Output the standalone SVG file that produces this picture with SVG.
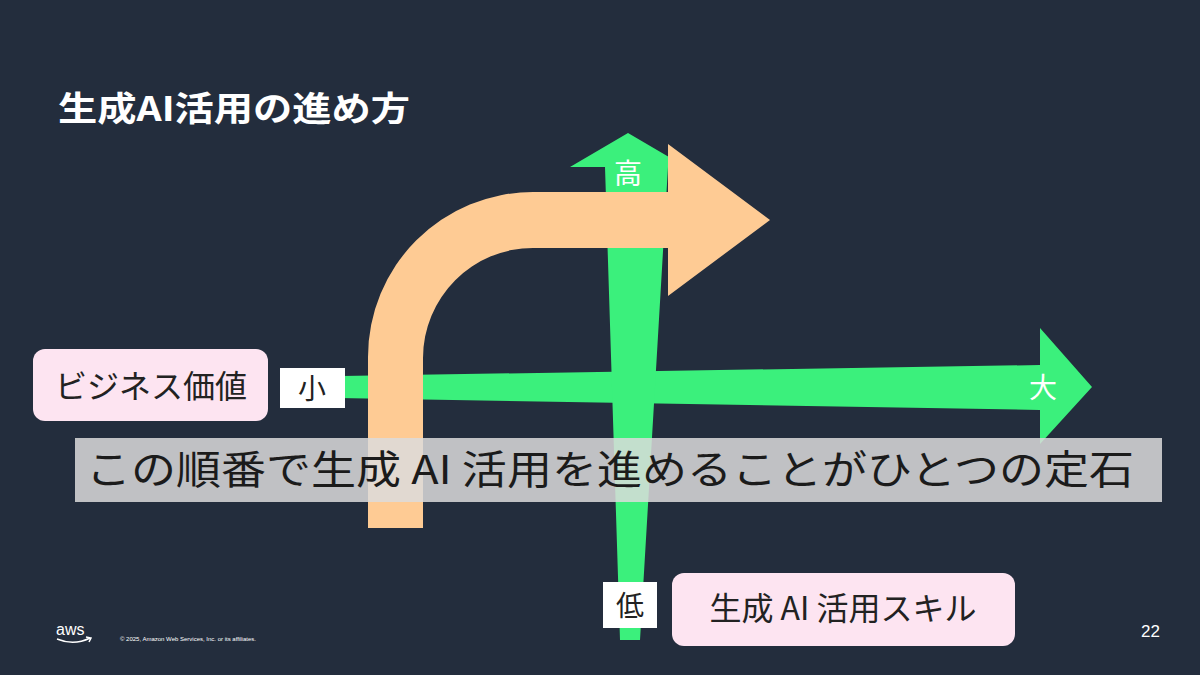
<svg xmlns="http://www.w3.org/2000/svg" width="1200" height="675" viewBox="0 0 1200 675">
<style>
.jp{font-family:"Noto Sans CJK JP","Noto Sans",sans-serif}
.g{fill:#3bf07c}
.pink{fill:#fde4f1}
</style>
<rect width="1200" height="675" fill="#232d3d"/>
<text x="58" y="121" class="jp" font-size="34" font-weight="bold" fill="#fff" textLength="352" lengthAdjust="spacingAndGlyphs">生成AI活用の進め方</text>
<g id="connectors">
<polygon class="g" points="280,377 1040,365 1040,328 1092,387 1040,444 1040,410 280,397"/>
<polygon class="g" points="605,167 570,167 628,133 686,167 668,167 640,640 620,640"/>
<path id="orange" fill="#fecb94" d="M368,528 L368,357 A165,165 0 0 1 533,192 L668,192 L668,144 L770,220 L668,296 L668,248 L533,248 A110,110 0 0 0 423,358 L423,528 Z"/>
</g>
<text x="628" y="184" class="jp" font-size="28" fill="#fff" text-anchor="middle">高</text>
<text x="1043" y="398" class="jp" font-size="28" fill="#fff" text-anchor="middle">大</text>
<g id="banner">
<rect x="75" y="438" width="1087" height="64" fill="#dcdcdc" opacity="0.85"/>
<text x="86" y="484" class="jp" font-size="40" fill="#1b1b1b" textLength="1048" lengthAdjust="spacingAndGlyphs">この順番で生成 AI 活用を進めることがひとつの定石</text>
</g>
<g id="node-value">
<rect class="pink" x="33" y="349" width="235" height="72" rx="12"/>
<text x="151" y="398" class="jp" font-size="32" fill="#222" text-anchor="middle">ビジネス価値</text>
</g>
<g id="node-small">
<rect x="280" y="368" width="65" height="40" fill="#fff"/>
<text x="312" y="399" class="jp" font-size="28" fill="#222" text-anchor="middle">小</text>
</g>
<g id="node-low">
<rect x="603" y="582" width="54" height="46" fill="#fff"/>
<text x="630" y="616" class="jp" font-size="28" fill="#222" text-anchor="middle">低</text>
</g>
<g id="node-skill">
<rect class="pink" x="672" y="573" width="343" height="73" rx="12"/>
<text x="843" y="620" class="jp" font-size="32" fill="#222" text-anchor="middle">生成 AI 活用スキル</text>
</g>
<text x="56" y="635" font-family="Liberation Sans,sans-serif" font-size="16" fill="#fff">aws</text>
<path d="M57,639 Q74,646 90,638 M86,637 L91,638 L89,642" fill="none" stroke="#fff" stroke-width="1.5"/>
<text x="120" y="641" font-family="Liberation Sans,sans-serif" font-size="6" fill="#fff">© 2025, Amazon Web Services, Inc. or its affiliates.</text>
<text x="1160" y="637" font-family="Liberation Sans,sans-serif" font-size="17" fill="#fff" text-anchor="end">22</text>
</svg>
